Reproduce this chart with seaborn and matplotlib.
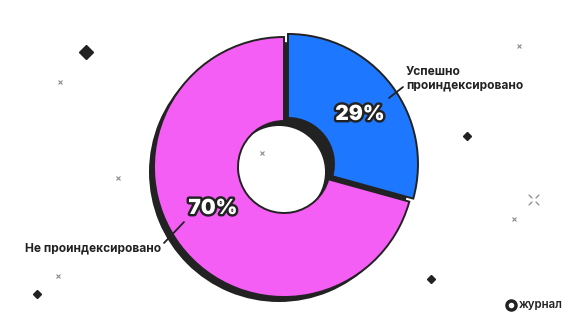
import matplotlib
matplotlib.use("Agg")
import matplotlib.pyplot as plt
import matplotlib.patheffects as pe
import seaborn as sns

# --- data ---
categories = ["Успешно проиндексировано", "Не проиндексировано"]
values = [29, 70]
pct_labels = ["29%", "70%"]
colors = ["#1E78FF", "#F45EF4"]

sns.set_theme(style="white")
plt.rcParams['font.family'] = ['Inter', 'DejaVu Sans']

W, H = 578, 326
fig = plt.figure(figsize=(W / 100, H / 100), dpi=100)
ax = fig.add_axes([0, 0, 1, 1])

def Y(y):
    return H - y

cx, cy = 284, Y(167)
R, width = 130, 84
dark = "#222222"

# shadow ring
ax.pie([1], colors=[dark], center=(cx - 5, cy - 5), radius=R, startangle=90,
       wedgeprops=dict(width=width, edgecolor=dark, linewidth=0), frame=True)
# main donut
wedges, _ = ax.pie(values, colors=colors, center=(cx, cy), radius=R, startangle=90,
                   counterclock=False, explode=[5, 0],
                   wedgeprops=dict(width=width, edgecolor=dark, linewidth=1.4), frame=True)
ax.set_xlim(0, W)
ax.set_ylim(0, H)
ax.set_aspect('equal')
ax.axis('off')

# percent labels
pct_pos = [(360, 114), (213, 208)]
for (px, py), lab in zip(pct_pos, pct_labels):
    ax.text(px, Y(py), lab, ha='center', va='center', fontsize=15, fontweight='black',
            color='white', family=['Inter', 'DejaVu Sans'],
            path_effects=[pe.Stroke(linewidth=3.5, foreground=dark), pe.Normal()])

# annotation lines & category text
ax.plot([389, 403], [Y(98), Y(87)], color=dark, lw=1.3)
ax.text(406, Y(79), categories[0].replace(" ", "\n"), ha='left', va='center',
        fontsize=8.6, fontweight='bold', color=dark, linespacing=1.15)
ax.plot([164, 184], [Y(243), Y(222)], color=dark, lw=1.3)
ax.text(25, Y(248), categories[1], ha='left', va='center',
        fontsize=8.6, fontweight='bold', color=dark)

# decorations
for (dx, dy, s) in [(86, 52, 9), (467, 136, 5), (37, 294, 5), (431, 279, 5)]:
    ax.plot(dx, Y(dy), marker='D', markersize=s * 0.75, color=dark, mec=dark)
for (dx, dy, s) in [(519, 46, 3.5), (60, 82, 3.5), (118, 178, 3.5), (262, 153, 3.5),
                    (514, 219, 3.5), (58, 276, 3.5)]:
    ax.plot(dx, Y(dy), marker='x', markersize=s, color='#8a8a8a', mew=0.8)
# larger sparkle: four short strokes around a gap
sx, sy = 534, 200
for ddx, ddy in [(-1, -1), (1, -1), (-1, 1), (1, 1)]:
    ax.plot([sx + 2 * ddx, sx + 5 * ddx], [Y(sy + 2 * ddy), Y(sy + 5 * ddy)],
            color='#8a8a8a', lw=0.9)

# logo
ax.plot(511, Y(305), marker='o', markersize=8, color=dark)
ax.plot(511, Y(305), marker='o', markersize=3, color='white')
ax.text(519, Y(305), "журнал", ha='left', va='center', fontsize=8.3,
        fontweight='semibold', color=dark)

fig.savefig("out.png", dpi=100)
